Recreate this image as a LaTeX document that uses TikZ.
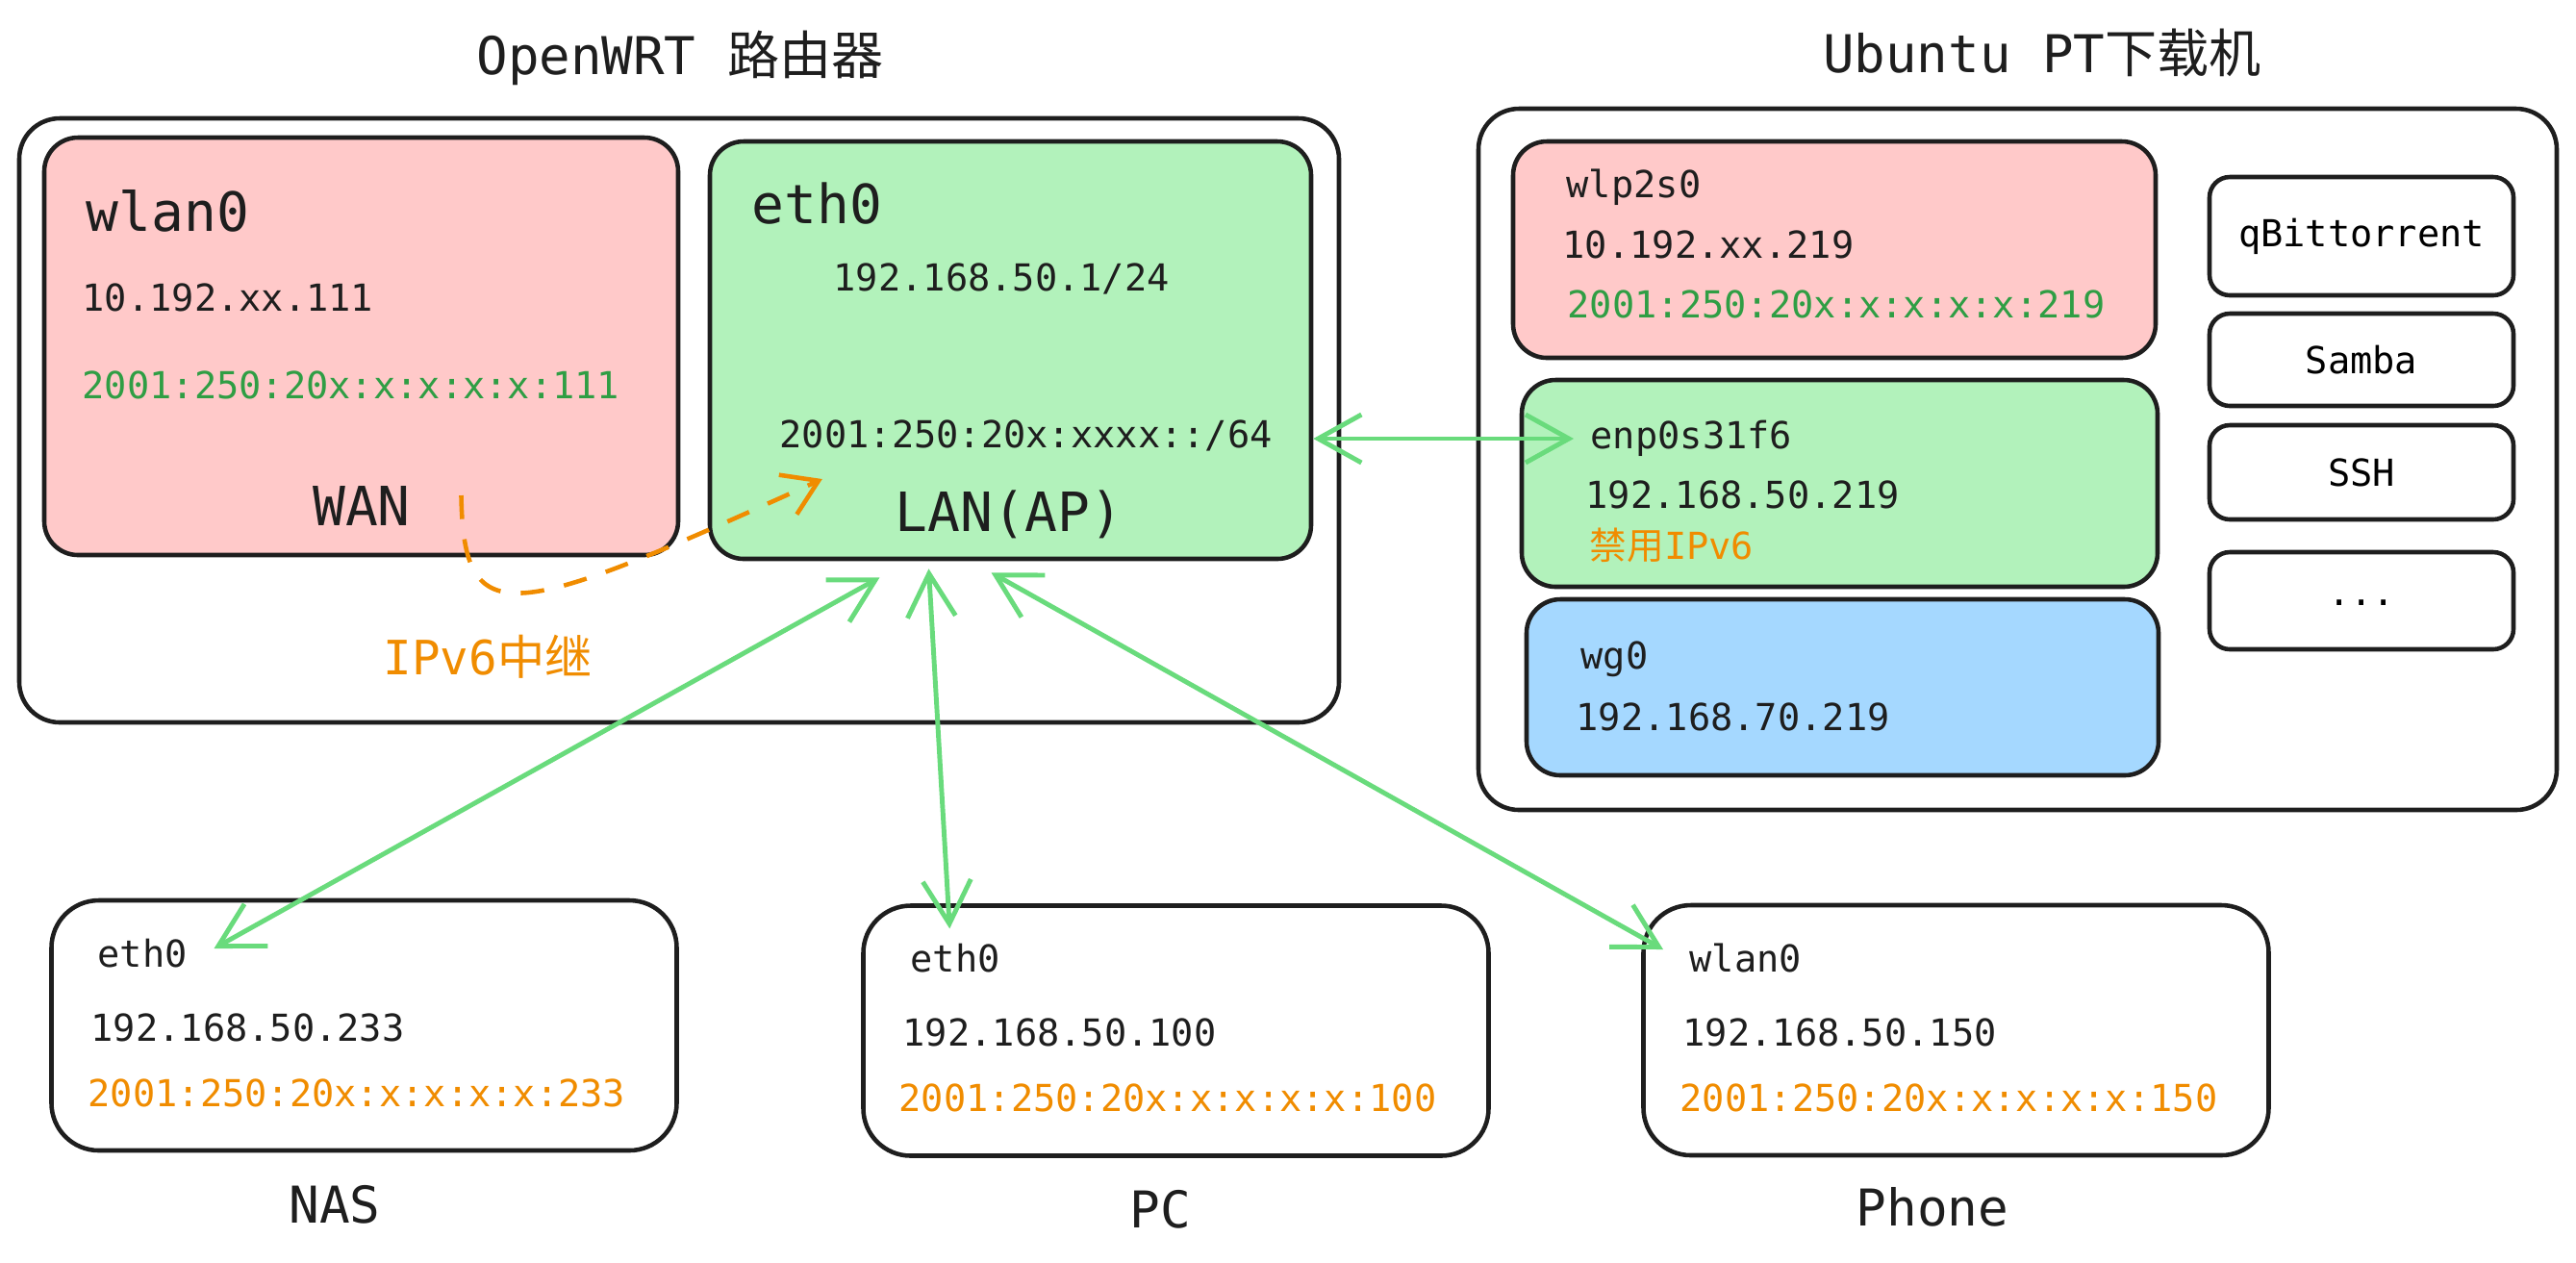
\documentclass[tikz,border=0pt]{standalone}
\usepackage{fontspec}
\setmainfont{DejaVu Sans Mono}
\newfontfamily\cjk{Noto Sans CJK SC}
\usepackage{xcolor}
\usetikzlibrary{arrows.meta, positioning, calc}
\definecolor{ink}{HTML}{1E1E1E}
\definecolor{pinkfill}{HTML}{FFC9C9}
\definecolor{greenfill}{HTML}{B2F2BB}
\definecolor{bluefill}{HTML}{A5D8FF}
\definecolor{txtgreen}{HTML}{2F9E44}
\definecolor{txtorange}{HTML}{F08C00}
\definecolor{linkgreen}{HTML}{69DB7C}
\tikzset{
	hostbox/.style={draw=ink, line width=1.3pt, rounded corners=12pt, inner sep=0pt},
	ifbox/.style={draw=ink, line width=1.3pt, rounded corners=10pt, inner sep=0pt, fill=#1},
	svcbox/.style={draw=ink, line width=1.3pt, rounded corners=6pt, inner sep=0pt, minimum width=3.16cm, font=\fontsize{11}{13}\selectfont},
	devbox/.style={draw=ink, line width=1.3pt, rounded corners=14pt, inner sep=0pt, minimum width=6.5cm, minimum height=2.6cm},
	linkarr/.style={<->, >={Straight Barb[length=4.5mm, width=5mm]}, draw=linkgreen, line width=1.4pt},
}

\begin{document}
\begin{tikzpicture}[
		txt/.style={anchor=west, inner sep=0pt, text=ink, font=\fontsize{11}{13}\selectfont},
		big/.style={inner sep=0pt, text=ink, font=\fontsize{16}{19}\selectfont},
		title/.style={inner sep=0pt, text=ink, font=\fontsize{15.4}{18}\selectfont},
		devname/.style={inner sep=0pt, text=ink, font=\fontsize{15}{18}\selectfont}
	]
	\useasboundingbox (0,0) rectangle (26.78,-13.12);

	% OpenWRT router
	\node[title] (rtitle) at (7.07,-0.60) {OpenWRT {\cjk 路由器}};
	\node[hostbox, minimum width=13.72cm, minimum height=6.28cm] (router) at (7.06,-4.37) {};
	\node[ifbox=pinkfill, minimum width=6.59cm, minimum height=4.34cm] (wlanR) at (3.755,-3.60) {};
	\node[ifbox=greenfill, minimum width=6.25cm, minimum height=4.34cm] (ethR) at (10.505,-3.64) {};
	\node[big, anchor=west] (wlanname) at (0.89,-2.19) {wlan0};
	\node[txt] (wlanv4) at (0.85,-3.09) {10.192.xx.111};
	\node[txt, text=txtgreen] (wlanv6) at (0.85,-4.00) {2001:250:20x:x:x:x:x:111};
	\node[big] (wan) at (3.76,-5.26) {WAN};
	\node[big, anchor=west] (ethname) at (7.81,-2.12) {eth0};
	\node[txt] (ethv4) at (8.66,-2.90) {192.168.50.1/24};
	\node[txt] (ethv6) at (8.10,-4.53) {2001:250:20x:xxxx::/64};
	\node[big] (lan) at (10.49,-5.35) {LAN(AP)};
	\node[inner sep=0pt, text=txtorange, font=\fontsize{14}{17}\selectfont] (relay) at (5.07,-6.83) {IPv6{\cjk 中继}};
	\draw[txtorange, line width=1.3pt, dashed, dash pattern=on 7pt off 6pt, ->, >={Straight Barb[length=3.5mm, width=4.5mm]}]
		($(wan.east)+(0.52,0.11)$) .. controls (4.82,-6.6) and (5.3,-6.45) .. ($(lan.west)+(-0.75,0.37)$);

	% Ubuntu download box
	\node[title] (utitle) at (21.23,-0.55) {Ubuntu PT{\cjk 下载机}};
	\node[hostbox, minimum width=11.21cm, minimum height=7.29cm] (ubuntu) at (20.975,-4.775) {};
	\node[ifbox=pinkfill, minimum width=6.68cm, minimum height=2.25cm] (wlp) at (19.07,-2.595) {};
	\node[ifbox=greenfill, minimum width=6.61cm, minimum height=2.15cm] (enp) at (19.125,-5.025) {};
	\node[ifbox=bluefill, minimum width=6.57cm, minimum height=1.83cm] (wg) at (19.155,-7.145) {};
	\node[txt] (wlpname) at (16.28,-1.95) {wlp2s0};
	\node[txt] (wlpv4) at (16.24,-2.54) {10.192.xx.219};
	\node[txt, text=txtgreen] (wlpv6) at (16.29,-3.16) {2001:250:20x:x:x:x:x:219};
	\node[txt] (enpname) at (16.53,-4.56) {enp0s31f6};
	\node[txt] (enpv4) at (16.48,-5.14) {192.168.50.219};
	\node[txt, text=txtorange] (enpnov6) at (16.52,-5.67) {{\cjk 禁用}IPv6};
	\node[txt] (wgname) at (16.43,-6.85) {wg0};
	\node[txt] (wgv4) at (16.38,-7.45) {192.168.70.219};
	\node[svcbox, minimum height=1.23cm] (qbt) at (24.55,-2.455) {qBittorrent};
	\node[svcbox, minimum height=0.96cm] (samba) at (24.55,-3.74) {Samba};
	\node[svcbox, minimum height=0.98cm] (ssh) at (24.55,-4.91) {SSH};
	\node[svcbox, minimum height=1.01cm] (more) at (24.55,-6.245) {\raisebox{-3pt}{...}};

	% LAN devices
	\node[devbox] (nas) at (3.785,-10.66) {};
	\node[txt] (nasname) at (1.01,-9.91) {eth0};
	\node[txt] (nasv4) at (0.94,-10.68) {192.168.50.233};
	\node[txt, text=txtorange] (nasv6) at (0.91,-11.36) {2001:250:20x:x:x:x:x:233};
	\node[devname] (naslabel) at (3.48,-12.52) {NAS};

	\node[devbox] (pc) at (12.225,-10.715) {};
	\node[txt] (pcname) at (9.46,-9.96) {eth0};
	\node[txt] (pcv4) at (9.38,-10.73) {192.168.50.100};
	\node[txt, text=txtorange] (pcv6) at (9.34,-11.41) {2001:250:20x:x:x:x:x:100};
	\node[devname] (pclabel) at (12.06,-12.57) {PC};

	\node[devbox] (phone) at (20.335,-10.71) {};
	\node[txt] (phonename) at (17.56,-9.96) {wlan0};
	\node[txt] (phonev4) at (17.49,-10.73) {192.168.50.150};
	\node[txt, text=txtorange] (phonev6) at (17.46,-11.41) {2001:250:20x:x:x:x:x:150};
	\node[devname] (phonelabel) at (20.09,-12.55) {Phone};

	% links
	\draw[linkarr] (ethR.east |- enpname.west) -- ($(enpname.west)+(-0.17,0)$);
	\draw[linkarr] ($(ethR.south)+(-1.36,-0.17)$) -- ($(nasname.east)+(0.27,0.05)$);
	\draw[linkarr] ($(ethR.south)+(-0.85,-0.08)$) -- ($(pcname.north)+(-0.06,0.15)$);
	\draw[linkarr] ($(ethR.south)+(-0.20,-0.12)$) -- ($(phonename.west)+(-0.27,0.09)$);
\end{tikzpicture}
\end{document}
